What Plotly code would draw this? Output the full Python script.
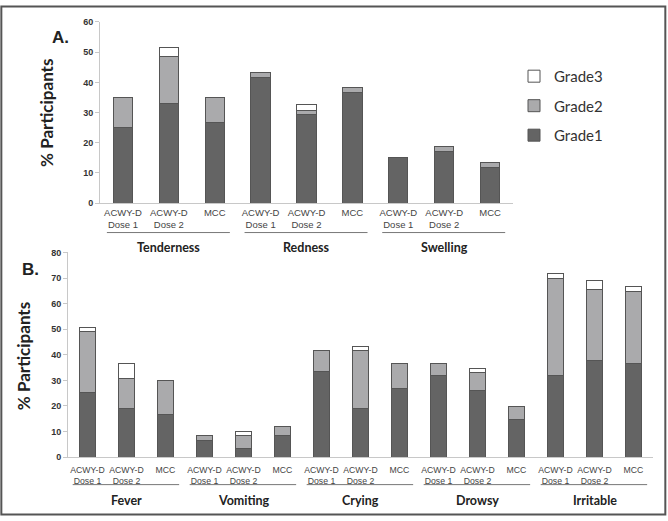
import plotly.graph_objects as go

# ---------------- data ----------------
top_groups = ["Tenderness", "Redness", "Swelling"]
top_vaccines = ["ACWY-D<br>Dose 1", "ACWY-D<br>Dose 2", "MCC"]
top_g1 = [25.0, 32.9, 26.7, 41.6, 29.3, 36.7, 15.1, 17.0, 11.9]
top_g2 = [10.0, 15.5, 8.2, 1.6, 1.5, 1.6, 0.0, 1.8, 1.5]
top_g3 = [0.0, 3.3, 0.0, 0.0, 1.8, 0.0, 0.0, 0.0, 0.0]

bot_groups = ["Fever", "Vomiting", "Crying", "Drowsy", "Irritable"]
bot_vaccines = ["ACWY-D<br>Dose 1", "ACWY-D<br>Dose 2", "MCC"]
bot_g1 = [25.3, 18.9, 16.7, 6.6, 3.4, 8.4, 33.5, 18.9, 26.8, 31.9, 26.1, 14.9, 31.9, 37.9, 36.7]
bot_g2 = [23.8, 12.0, 13.3, 1.7, 5.0, 3.4, 8.2, 22.6, 9.7, 4.6, 6.9, 5.0, 38.1, 27.6, 28.2]
bot_g3 = [1.7, 5.6, 0.0, 0.0, 1.8, 0.0, 0.0, 1.8, 0.0, 0.0, 1.5, 0.0, 1.7, 3.4, 1.8]

series_names = ["Grade1", "Grade2", "Grade3"]
series_colors = ["#646464", "#aaaaac", "#ffffff"]
series_rank = [3, 2, 1]

# ---------------- figure ----------------
W, H = 668, 521
fig = go.Figure()

def add_panel(g1, g2, g3, xa, ya, show):
    n = len(g1)
    xs = list(range(n))
    for vals, name, col, rk in zip([g1, g2, g3], series_names, series_colors, series_rank):
        fig.add_trace(go.Bar(
            x=xs, y=vals, name=name, xaxis=xa, yaxis=ya,
            marker=dict(color=col, line=dict(color="#555555", width=1)),
            width=0.42, showlegend=show, legendgroup=name, legendrank=rk,
        ))

add_panel(top_g1, top_g2, top_g3, "x", "y", True)
add_panel(bot_g1, bot_g2, bot_g3, "x2", "y2", False)

def px2py(p):
    return 1 - p / H

tick_font = dict(family="Liberation Sans", size=9, color="#333333", weight="bold")

axis_common = dict(showgrid=False, zeroline=False, showline=True,
                   linecolor="#c8c8c8", linewidth=1)

fig.update_layout(
    width=W, height=H, margin=dict(l=0, r=0, t=0, b=0),
    paper_bgcolor="white", plot_bgcolor="white",
    barmode="stack", bargap=0.5,
    xaxis=dict(domain=[100 / W, 513 / W], range=[-0.5, 8.5],
               tickvals=list(range(9)), ticktext=top_vaccines * 3,
               ticks="", tickfont=dict(family="Liberation Sans", size=9.5, color="#444444"),
               anchor="y", **axis_common),
    yaxis=dict(domain=[px2py(202), px2py(17.3)], range=[0, 60], dtick=10,
               ticks="outside", ticklen=4, tickcolor="#c8c8c8",
               tickfont=tick_font, anchor="x", **axis_common),
    xaxis2=dict(domain=[68 / W, 653 / W], range=[-0.5, 14.5],
                tickvals=list(range(15)), ticktext=bot_vaccines * 5,
                ticks="", tickfont=dict(family="Liberation Sans", size=8.7, color="#444444"),
                ticklabelstandoff=4,
                anchor="y2", **axis_common),
    yaxis2=dict(domain=[px2py(461), px2py(252.3)], range=[0, 80], dtick=10,
                ticks="outside", ticklen=4, tickcolor="#c8c8c8",
                tickfont=tick_font, anchor="x2", **axis_common),
    legend=dict(x=514 / W, y=px2py(56), xanchor="left", yanchor="top",
                traceorder="grouped", font=dict(family="Lato", size=15, color="#333333"),
                bgcolor="rgba(0,0,0,0)", tracegroupgap=7),
    showlegend=True,
)

shapes = []
annotations = []

def groups(names, xa, ya, label_py, line_py, s_off, e_off, size):
    for i, g in enumerate(names):
        c = 3 * i + 1
        annotations.append(dict(x=c, y=px2py(label_py), xref=xa, yref="paper",
                                xanchor="center", yanchor="middle",
                                text=g, showarrow=False,
                                font=dict(family="Lato", size=size, color="#222222", weight="bold")))
        shapes.append(dict(type="line", xref=xa, yref="paper",
                           x0=3 * i - 0.5 + s_off, x1=3 * i + 2.5 - e_off,
                           y0=px2py(line_py), y1=px2py(line_py),
                           line=dict(color="#777777", width=1)))
        if i > 0:
            shapes.append(dict(type="line", xref=xa, yref=ya, ysizemode="pixel", yanchor=0,
                               x0=3 * i - 0.5, x1=3 * i - 0.5, y0=0, y1=-5,
                               line=dict(color="#c8c8c8", width=1)))

groups(top_groups, "x", "y", 247, 232, 0.15, 0.17, 12.5)
groups(bot_groups, "x2", "y2", 505, 489, 0.12, 0.15, 12.5)

def label(x, y, text, family, size, angle=0):
    annotations.append(dict(x=x / W, y=px2py(y), xref="paper", yref="paper", text=text,
                            xanchor="center", yanchor="middle", textangle=angle,
                            showarrow=False,
                            font=dict(family=family, size=size, color="#222222", weight="bold")))

label(60, 33, "A.", "Liberation Sans", 17)
label(30, 270, "B.", "Liberation Sans", 17)
label(47, 110, "% Participants", "Lato", 17, -90)
label(23, 358, "% Participants", "Lato", 17, -90)

# outer border
shapes.append(dict(type="rect", xref="paper", yref="paper", x0=0.002, x1=0.996, y0=0.003, y1=0.997,
                   line=dict(color="#555555", width=2)))

fig.update_layout(shapes=shapes, annotations=annotations)
fig.write_html("out.html", config={"displayModeBar": False},
               post_script="document.body.style.margin='0';document.body.style.overflow='hidden';")
